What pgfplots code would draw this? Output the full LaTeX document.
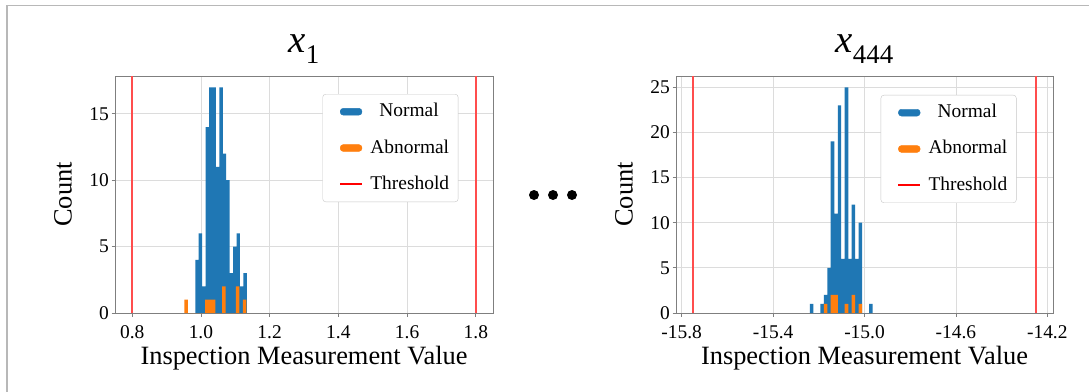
\documentclass[border=0pt]{standalone}
\usepackage{fontspec}
\setmainfont{Liberation Serif}
\usepackage{pgfplots}
\pgfplotsset{compat=1.18}
\definecolor{cblue}{HTML}{1F77B4}
\definecolor{corange}{HTML}{FF7F0E}
\definecolor{cgrid}{HTML}{DCDCDC}
\definecolor{cspine}{HTML}{7F7F7F}
\definecolor{cthr}{HTML}{FF4D4D}
\definecolor{cred}{HTML}{FF0000}
\pgfplotsset{
  hist/.style={axis on top=false,
    width=378bp, height=237bp, scale only axis,
    axis line style={cspine, line width=0.8bp},
    tick style={cspine, line width=0.8bp},
    tick align=outside, major tick length=3.5bp,
    xtick pos=bottom, ytick pos=left,
    grid=major, major grid style={cgrid, line width=0.8bp},
    /pgf/number format/assume math mode=true,
    ticklabel style={font=\fontsize{19.5}{22}\selectfont, inner sep=0pt},
    xticklabel style={anchor=north, yshift=-8.5bp},
    yticklabel style={anchor=east, xshift=-2.5bp},
    xlabel={Inspection Measurement Value},
    ylabel={Count},
    label style={font=\fontsize{26.5}{30}\selectfont},
    xlabel style={at={([yshift=-51.5bp]axis description cs:0.5,0)}, anchor=base},
    ylabel style={at={([xshift=-43.5bp]axis description cs:0,0.5)}, anchor=base, rotate=0},
    title style={anchor=base, font=\fontsize{39}{40}\selectfont},
    legend style={anchor=north west, draw=black!22, rounded corners=3bp, fill=white,
      font=\fontsize{19.5}{22}\selectfont, inner xsep=9bp, inner ysep=8.5bp,
      row sep=18.3bp, column sep=7.6bp,
      nodes={inner sep=0pt, text height=14bp, text depth=4bp}},
    legend cell align=left,
  },
  threshold/.style={draw=cthr, line width=1.7bp, forget plot},
}
\newcommand{\legs}{%
  \addlegendimage{legend image code/.code={\path (0bp,0bp); \fill[cblue] (8.3bp,-3.4bp) rectangle (30bp,3.4bp);}}
  \addlegendentry{\hspace*{9bp}Normal}
  \addlegendimage{legend image code/.code={\path (0bp,0bp); \fill[corange] (8.3bp,-3.4bp) rectangle (30bp,3.4bp);}}
  \addlegendentry{Abnormal}
  \addlegendimage{legend image code/.code={\path (0bp,0bp); \draw[cred, line width=1.7bp] (8.3bp,0bp) -- (30bp,0bp);}}
  \addlegendentry{Threshold}
}
\begin{document}
\begin{tikzpicture}
\useasboundingbox (0,0) rectangle (1089bp,-392bp);
\fill[white] (0,0) rectangle (1089bp,-392bp);
\draw[black!28, line width=1.5bp] (7bp,-392bp) -- (7bp,-5.5bp) -- (1089bp,-5.5bp);
% left panel
\begin{axis}[hist, at={(115bp,-313bp)}, anchor=south west,
  xmin=0.75, xmax=1.85, ymin=0, ymax=17.85,
  xtick={0.8,1.0,1.2,1.4,1.6,1.8}, xticklabels={0.8,1.0,1.2,1.4,1.6,1.8},
  ytick={0,5,10,15},
  title={\textit{x}\raisebox{-0.3em}{\fontsize{27}{27}\selectfont 1}},
  title style={at={([yshift=18bp]axis description cs:0.5,1)}},
  legend style={at={(0.549,0.924)}},
]
\addplot[const plot mark left, fill=cblue, draw=none, forget plot] coordinates {
(0.9836,4) (0.9936,6) (1.0036,2) (1.0136,14) (1.0236,17) (1.0336,17) (1.0436,11) (1.0536,17)
(1.0636,12) (1.0736,10) (1.0836,3) (1.0936,5) (1.1036,6) (1.1136,2) (1.1236,3) (1.1336,0)} \closedcycle;
\addplot[const plot mark left, fill=corange, draw=none, forget plot] coordinates {
(0.952,1) (0.962,0) (1.012,1) (1.022,1) (1.032,1) (1.042,0) (1.062,2) (1.072,0)
(1.102,2) (1.112,0) (1.122,1) (1.132,0)} \closedcycle;
\addplot[threshold] coordinates {(0.8,0) (0.8,17.85)};
\addplot[threshold] coordinates {(1.8,0) (1.8,17.85)};
\legs
\end{axis}
% dots
\fill[black] (534bp,-195bp) circle (5bp);
\fill[black] (553bp,-195bp) circle (5bp);
\fill[black] (572bp,-195bp) circle (5bp);
% right panel
\begin{axis}[hist, at={(676bp,-313bp)}, anchor=south west, width=377bp,
  xmin=-15.825, xmax=-14.175, ymin=0, ymax=26.25,
  xtick={-15.8,-15.4,-15.0,-14.6,-14.2}, xticklabels={-15.8,-15.4,-15.0,-14.6,-14.2},
  ytick={0,5,10,15,20,25},
  title={\textit{x}\raisebox{-0.3em}{\fontsize{27}{27}\selectfont 444}},
  title style={at={([yshift=18bp]axis description cs:0.5,1)}},
  legend style={at={(0.543,0.92)}},
]
\addplot[const plot mark left, fill=cblue, draw=none, forget plot] coordinates {
(-15.239,1) (-15.224,0) (-15.193,1) (-15.178,2) (-15.163,5) (-15.148,19) (-15.132,11)
(-15.117,23) (-15.102,6) (-15.087,25) (-15.071,6) (-15.056,12) (-15.041,6) (-15.026,10)
(-15.010,0) (-14.980,1) (-14.965,0)} \closedcycle;
\addplot[const plot mark left, fill=corange, draw=none, forget plot] coordinates {
(-15.178,1) (-15.163,0) (-15.148,2) (-15.132,2) (-15.117,0) (-15.087,1) (-15.071,0)
(-15.056,2) (-15.041,0) (-15.026,1) (-15.010,0)} \closedcycle;
\addplot[threshold] coordinates {(-15.75,0) (-15.75,26.25)};
\addplot[threshold] coordinates {(-14.25,0) (-14.25,26.25)};
\legs
\end{axis}
\end{tikzpicture}
\end{document}
